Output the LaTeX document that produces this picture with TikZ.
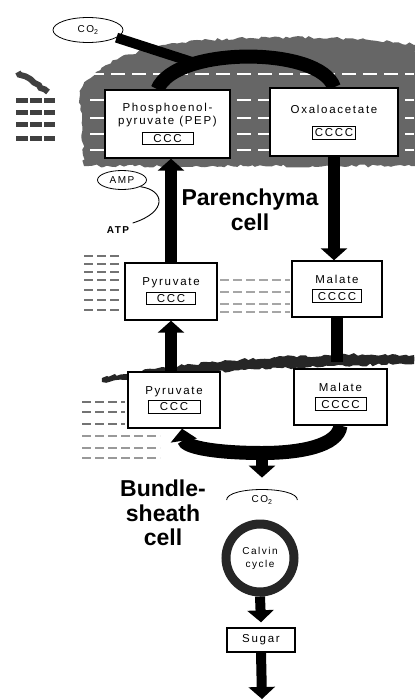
\documentclass[tikz,border=0pt]{standalone}
\usepackage{fontspec}
\setmainfont{Liberation Sans}
\newfontfamily\tagfont[LetterSpace=15]{Liberation Sans}
\usetikzlibrary{arrows.meta,shapes.geometric,decorations.pathmorphing}
\pgfdeclarelayer{back}
\pgfdeclarelayer{mid}
\pgfsetlayers{back,mid,main}
% framed carbon skeleton inside a box
\newcommand{\chain}[2]{{\setlength{\fboxrule}{0.7pt}\setlength{\fboxsep}{2pt}\framebox[#1]{#2}}}

\begin{document}
\begin{tikzpicture}[x=1pt, y=-1pt,
    cellbox/.style={rectangle, draw, line width=1.4pt, fill=white, align=center, inner sep=0pt, font=\tagfont\fontsize{11.5}{13.5}\selectfont},
    molecule/.style={ellipse, draw, line width=0.8pt, inner sep=1pt, font=\tagfont\fontsize{10}{12}\selectfont},
    cellname/.style={align=center, font=\bfseries\fontsize{23}{24.5}\selectfont},
    bigflow/.style={line width=12pt, -{Triangle[length=12pt,width=26pt]}},
    band/.style={line width=14pt},
    rough/.style={decorate, decoration={random steps, segment length=4pt, amplitude=1.5pt}},
    streak/.style={black!55, line width=1.6pt, dash pattern=on 9pt off 4pt}
  ]
  \useasboundingbox (0,0) rectangle (415,699);

  % boxes of the parenchyma cell
  \node[cellbox, minimum width=125pt, minimum height=68pt] (pep) at (167.5,124) {Phosphoenol-\\pyruvate (PEP)\\[4pt]\chain{52pt}{CCC}};
  \node[cellbox, minimum width=128pt, minimum height=68pt] (oaa) at (334,122) {Oxaloacetate\\[10pt]\chain{44pt}{CCCC}};
  \node[cellbox, minimum width=92pt, minimum height=57pt] (pyrM) at (171,291.5) {Pyruvate\\[3pt]\chain{50pt}{CCC}};
  \node[cellbox, minimum width=90pt, minimum height=56pt] (malM) at (337,289) {Malate\\[3pt]\chain{50pt}{CCCC}};
  % boxes of the bundle-sheath cell
  \node[cellbox, minimum width=92pt, minimum height=56pt] (pyrB) at (174,400) {Pyruvate\\[3pt]\chain{53pt}{CCC}};
  \node[cellbox, minimum width=93pt, minimum height=56pt] (malB) at (340.5,397) {Malate\\[3pt]\chain{52pt}{CCCC}};
  \node[cellbox, minimum width=68pt, minimum height=24pt] (sugar) at (261,640) {Sugar};

  \node[molecule, minimum width=70pt, minimum height=25pt] (co2) at (88,30) {CO\textsubscript{2}};
  \node[molecule, minimum width=49pt, minimum height=19pt] (amp) at (122,180) {AMP};
  \node[font=\tagfont\bfseries\fontsize{10}{12}\selectfont] (atp) at (118,230) {ATP};
  \node[molecule, draw=none, minimum width=70pt, minimum height=30pt] (co2B) at (262,500) {CO\textsubscript{2}};
  \node[circle, draw=black!85, line width=9pt, minimum size=68pt, align=center, font=\tagfont\fontsize{10}{13}\selectfont] (calvin) at (260,558) {Calvin\\cycle};

  \node[cellname] (meso) at (250,210) {Parenchyma\\cell};
  \node[cellname] (bs) at (163,513) {Bundle-\\sheath\\cell};

  \coordinate (co2join) at (192,62);
  \coordinate (wallR) at (337,362);
  \coordinate (arcfoot) at (262,453);
  \coordinate (out) at (262,699);

  \begin{pgfonlayer}{back}
    % shaded cytoplasm round the upper boxes
    \fill[black!60, rough] (84,166) -- (80,95) .. controls (90,60) and (150,40) .. (250,38) .. controls (330,36) and (390,40) .. (416,45) -- (416,166) -- cycle;
    \foreach \y in {74,100,118,134,150}
      \draw[white, line width=2pt, dash pattern=on 14pt off 7pt] (90,\y) -- (414,\y);
    % scraps of neighbouring cells
    \draw[black!75, line width=6pt, rough] (18,72) -- (48,92);
    \foreach \y in {100,112,124,138}
      \draw[black!75, line width=5pt, dash pattern=on 12pt off 2pt] (16,\y) -- (55,\y);
    \foreach \y in {256,264,272,280,290,300,310}
      \draw[streak] (84,\y) -- (122,\y);
    \foreach \y in {280,292,304,312}
      \draw[streak, black!35] (220,\y) -- (290,\y);
    \foreach \y in {402,412,424}
      \draw[streak] (82,\y) -- (125,\y);
    \foreach \y in {436,448,458}
      \draw[streak, black!40] (82,\y) -- (160,\y);
    % wall between the two cells
    \fill[black!85, rough] (102,378) .. controls (180,362) and (300,352) .. (414,355) -- (414,364) .. controls (300,366) and (190,372) .. (102,382) -- cycle;
  \end{pgfonlayer}

  \begin{pgfonlayer}{mid}
    \draw[band] ([xshift=-10pt]pep.north) .. controls (175,46) and (320,46) .. (oaa.north);
    \draw[line width=10pt] (co2.-15) -- (co2join);
    \draw[line width=12pt] (malM.south) -- (wallR);
    \draw[band, -{Triangle[length=12pt,width=26pt]}] (malB.south) .. controls (338,446) and (300,453) .. (arcfoot) .. controls (220,453) and (185,448) .. ([xshift=8pt]pyrB.south);
  \end{pgfonlayer}

  \draw[bigflow] (pyrM.north) -- (pyrM.north |- pep.south);
  \draw[bigflow] (oaa.south) -- (oaa.south |- malM.north);
  \draw[bigflow] (pyrB.north -| pyrM.north) -- (pyrM.south);
  \draw[bigflow] (arcfoot) -- ([yshift=7pt]co2B.north);
  \draw[bigflow, line width=10pt] (calvin.south) -- ([yshift=5pt]sugar.north);
  \draw[bigflow, line width=10pt] (sugar.south) -- (out);

  \draw[line width=0.8pt] (co2B.west) .. controls ([yshift=14pt]co2B.west) and ([yshift=14pt]co2B.east) .. (co2B.east);
  \draw[line width=0.9pt] (atp.north east) .. controls (168,212) and (165,190) .. (amp.-20);
\end{tikzpicture}
\end{document}
